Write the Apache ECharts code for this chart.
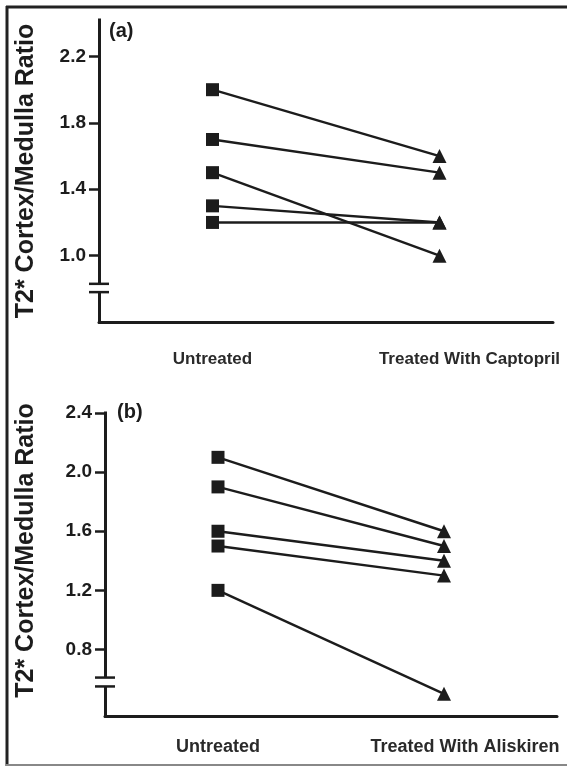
<!DOCTYPE html>
<html><head><meta charset="utf-8">
<script src="https://cdn.jsdelivr.net/npm/echarts@6/dist/echarts.min.js"></script>
<style>html,body{margin:0;padding:0;background:#fff}#c{width:567px;height:767px}</style>
</head><body><div id="c"></div>
<script>
// ---- data ----
const categoriesA = ['Untreated', 'Treated With Captopril'];
const categoriesB = ['Untreated', 'Treated With Aliskiren'];
const untreatedA = [2.0, 1.7, 1.5, 1.3, 1.2];
const captoprilA = [1.6, 1.5, 1.0, 1.2, 1.2];
const untreatedB = [2.1, 1.9, 1.6, 1.5, 1.2];
const aliskirenB = [1.6, 1.5, 1.4, 1.3, 0.5];
const ticksA = [1.0, 1.4, 1.8, 2.2];
const ticksB = [0.8, 1.2, 1.6, 2.0, 2.4];
const yTitle = 'T2* Cortex/Medulla Ratio';
const panelLabels = ['(a)', '(b)'];

// ---- layout / style ----
const INK = '#1c1c1c';
const FONT = '"Liberation Sans", Arial, sans-serif';
const gridA = {left: 99, top: 20, width: 454, height: 302};
const gridB = {left: 105, top: 413, width: 452, height: 303};
const rangeA = {min: 0.6, max: 2.42};
const rangeB = {min: 0.35, max: 2.4};

const chart = echarts.init(document.getElementById('c'), null, {renderer: 'canvas'});

function xAxisCfg(cats, gridIndex, margin, shift, fs) {
  return {
    type: 'category', gridIndex: gridIndex, boundaryGap: true,
    data: cats.map((c, i) => i === 1 ? {value: c, textStyle: {padding: [0, 0, 0, shift]}} : c),
    axisLine: {lineStyle: {color: INK, width: 3}},
    axisTick: {alignWithLabel: true, interval: 0, length: 10, lineStyle: {color: INK, width: 3}},
    axisLabel: {interval: 0, margin: margin, color: '#2a2a2a', fontFamily: FONT, fontWeight: 'bold', fontSize: fs},
    splitLine: {show: false}
  };
}
function yAxisCfg(range, ticks, gridIndex, nameGap, namePad) {
  return {
    type: 'value', gridIndex: gridIndex, min: range.min, max: range.max,
    name: yTitle, nameLocation: 'middle', nameRotate: 90, nameGap: nameGap,
    nameTextStyle: {color: INK, fontFamily: FONT, fontWeight: 'bold', fontSize: 25, padding: namePad},
    axisLine: {show: true, lineStyle: {color: INK, width: 3, cap: 'square'}},
    axisTick: {show: true, length: 10, customValues: ticks, lineStyle: {color: INK, width: 2.5}},
    axisLabel: {customValues: ticks, margin: 13, color: INK, fontFamily: FONT, fontWeight: 'bold', fontSize: 19,
      formatter: v => Number(v).toFixed(1)},
    splitLine: {show: false}
  };
}
function pairSeries(before, after, idx) {
  return before.map((b, i) => ({
    type: 'line', xAxisIndex: idx, yAxisIndex: idx, silent: true, animation: false,
    lineStyle: {color: INK, width: 2.4}, itemStyle: {color: INK},
    data: [
      {value: b, symbol: 'rect', symbolSize: 13},
      {value: after[i], symbol: 'triangle', symbolSize: 14}
    ]
  }));
}

chart.setOption({
  animation: false,
  grid: [
    Object.assign({outerBoundsMode: 'none', containLabel: false}, gridA),
    Object.assign({outerBoundsMode: 'none', containLabel: false}, gridB)
  ],
  xAxis: [xAxisCfg(categoriesA, 0, 29, 60, 17), xAxisCfg(categoriesB, 1, 22, 42, 18)],
  yAxis: [yAxisCfg(rangeA, ticksA, 0, 60, [0, 0, 0, 0]), yAxisCfg(rangeB, ticksB, 1, 66, [0, 0, 0, 28])],
  series: [].concat(pairSeries(untreatedA, captoprilA, 0), pairSeries(untreatedB, aliskirenB, 1))
});

// ---- decorations: axis breaks, panel labels, frame ----
function breakGraphics(yIdx, axisX, hiVal, loVal) {
  const yHi = chart.convertToPixel({yAxisIndex: yIdx}, hiVal);
  const yLo = chart.convertToPixel({yAxisIndex: yIdx}, loVal);
  return [
    {type: 'rect', shape: {x: axisX - 3, y: yHi, width: 6, height: yLo - yHi}, style: {fill: '#fff'}, z: 100},
    {type: 'line', shape: {x1: axisX - 10, y1: yHi, x2: axisX + 10, y2: yHi}, style: {stroke: INK, lineWidth: 2.5}, z: 101},
    {type: 'line', shape: {x1: axisX - 10, y1: yLo, x2: axisX + 10, y2: yLo}, style: {stroke: INK, lineWidth: 2.5}, z: 101}
  ];
}
const g = [].concat(
  breakGraphics(0, gridA.left, 0.83, 0.78),
  breakGraphics(1, gridB.left, 0.61, 0.55),
  [
    {type: 'text', x: 109, y: 31, style: {text: panelLabels[0], fill: INK, font: 'bold 20px ' + FONT, verticalAlign: 'middle'}, z: 100},
    {type: 'text', x: 117, y: 412, style: {text: panelLabels[1], fill: INK, font: 'bold 20px ' + FONT, verticalAlign: 'middle'}, z: 100},
    {type: 'line', shape: {x1: 6, y1: 7, x2: 567, y2: 7}, style: {stroke: '#222', lineWidth: 3}, z: 100},
    {type: 'line', shape: {x1: 7, y1: 6, x2: 7, y2: 766}, style: {stroke: '#222', lineWidth: 3}, z: 100},
    {type: 'line', shape: {x1: 6, y1: 765, x2: 567, y2: 765}, style: {stroke: '#888', lineWidth: 2}, z: 100}
  ]
);
chart.setOption({graphic: g});
</script></body></html>
